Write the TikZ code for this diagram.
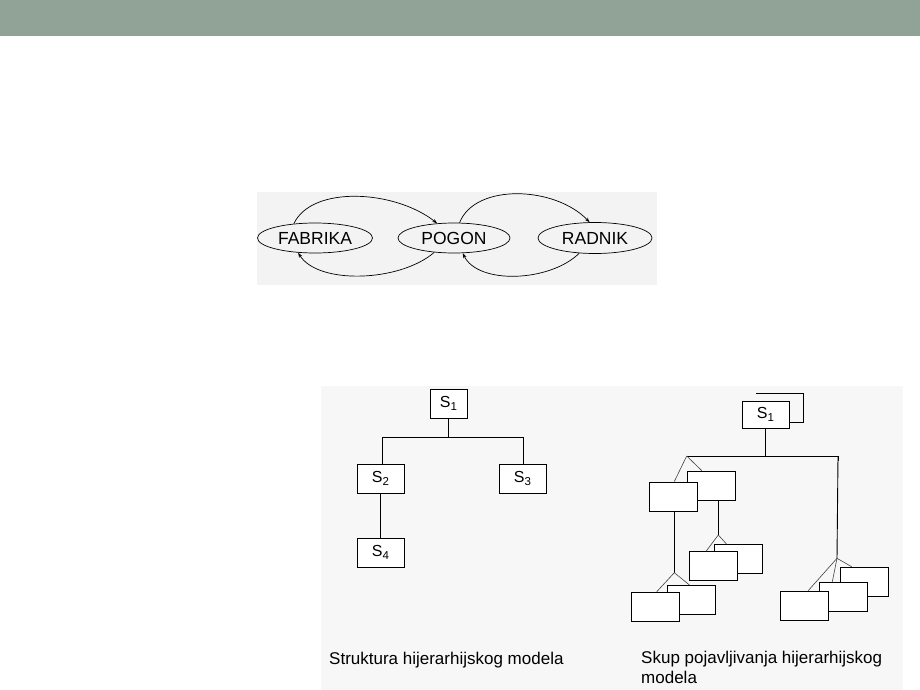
\documentclass[tikz,border=0pt]{standalone}
\usepackage{fontspec}
\setmainfont{Liberation Sans}
\usetikzlibrary{arrows.meta,shapes.geometric}
\definecolor{hdr}{RGB}{145,162,150}
\definecolor{panelA}{RGB}{243,243,243}
\definecolor{panelB}{RGB}{247,247,247}
\newcommand{\Sx}[1]{S\raisebox{-0.4ex}{\fontsize{11.5}{11.5}\selectfont #1}}
\tikzset{
  ell/.style={draw, ellipse, line width=0.7pt, inner sep=0pt, font=\fontsize{17.5}{17.5}\selectfont},
  arr/.style={line width=0.7pt, -{Stealth[length=5pt,width=3.5pt]}},
  sbox/.style={draw, fill=white, line width=0.9pt, inner sep=0pt, minimum height=29pt, font=\fontsize{16}{16}\selectfont},
  ebox/.style={draw, fill=white, line width=0.9pt, inner sep=0pt, minimum width=48pt, minimum height=29pt},
  link/.style={line width=0.9pt},
  fan/.style={line width=0.6pt, draw=black!75},
  captext/.style={font=\fontsize{17}{20}\selectfont, inner sep=0pt, align=left}
}
\begin{document}
\begin{tikzpicture}[x=1pt,y=-1pt]
\useasboundingbox (0,0) rectangle (920,690);
\fill[white] (0,0) rectangle (920,690);
\fill[hdr] (0,0) rectangle (920,36);
% top panel
\fill[panelA] (257,192) rectangle (657,285);
\node[ell, minimum width=115pt, minimum height=30pt] (fab) at (315,238) {FABRIKA};
\node[ell, minimum width=112pt, minimum height=30pt] (pog) at (454,238) {POGON};
\node[ell, minimum width=114pt, minimum height=31pt] (rad) at (595,238) {RADNIK};
\draw[arr] (fab.146) .. controls (312,185) and (395,190) .. (pog.139);
\draw[arr] (pog.70) .. controls (475,183) and (555,186) .. (rad.109);
\draw[arr] (rad.224) .. controls (550,282) and (478,285) .. (pog.300);
\draw[arr] (pog.216) .. controls (400,282) and (318,285) .. (fab.221);
% bottom panel
\fill[panelB] (321,386) rectangle (903,690);
% left tree
\node[sbox, minimum width=37pt] (s1) at (448.5,403.5) {\Sx{1}};
\node[sbox, minimum width=47pt] (s2) at (380.5,478.5) {\Sx{2}};
\node[sbox, minimum width=47pt] (s3) at (522.5,478.5) {\Sx{3}};
\node[sbox, minimum width=47pt] (s4) at (380.5,552.5) {\Sx{4}};
\coordinate (lb) at (382,437);
\coordinate (rb) at (523,437);
\draw[link] (lb) -- (rb);
\draw[link] (s1.south) -- (s1.south |- lb);
\draw[link] (lb) -- (lb |- s2.north);
\draw[link] (rb) -- (rb |- s3.north);
\draw[link] (s2.south) -- (s4.north);
% right tree
\draw[link] (756,393) -- (803,393) -- (803,422) -- (785,422);
\node[sbox, minimum width=47pt, minimum height=27pt] (r1) at (765.5,414.5) {\Sx{1}};
\coordinate (bl) at (686.7,456);
\coordinate (br) at (838,456);
\draw[link] (bl) -- (br) -- ++(0,5);
\draw[link] (r1.south) -- (r1.south |- bl);
% group A
\node[ebox] (a2) at (711.7,485.5) {};
\node[ebox] (a1) at (673.3,496.5) {};
\draw[fan] (bl) -- ([xshift=1pt]a1.north);
\draw[fan] (bl) -- ([xshift=-10pt]a2.north);
% group B
\coordinate (pb) at (718.3,535);
\draw[link] ([xshift=6.6pt]a2.south) -- (pb);
\node[ebox] (b2) at (738.3,559.2) {};
\node[ebox] (b1) at (713.3,566.3) {};
\draw[fan] (pb) -- ([xshift=-7.3pt]b1.north);
\draw[fan] (pb) -- ([xshift=-11.6pt]b2.north);
% group C
\coordinate (pc) at (674.3,572.7);
\draw[link] ([xshift=1pt]a1.south) -- (pc);
\node[ebox] (c2) at (691.7,599.8) {};
\node[ebox] (c1) at (655.5,606.7) {};
\draw[fan] (pc) -- ([xshift=1.2pt]c1.north);
\draw[fan] (pc) -- ([xshift=-2.4pt]c2.north);
% group D
\coordinate (pd) at (837,558.3);
\draw[link] (br) -- (pd);
\node[ebox] (d3) at (864.5,581.7) {};
\node[ebox] (d2) at (843.3,596.7) {};
\node[ebox] (d1) at (804.5,605.5) {};
\draw[fan] (pd) -- ([xshift=3.8pt]d1.north);
\draw[fan] (pd) -- ([xshift=-11pt]d2.north);
\draw[fan] (pd) -- ([xshift=-12.8pt]d3.north);
% captions
\node[captext, anchor=west] (capL) at (329,660) {Struktura hijerarhijskog modela};
\node[captext, anchor=north west] (capR) at (641,651) {Skup pojavljivanja hijerarhijskog\\modela};
\end{tikzpicture}
\end{document}
